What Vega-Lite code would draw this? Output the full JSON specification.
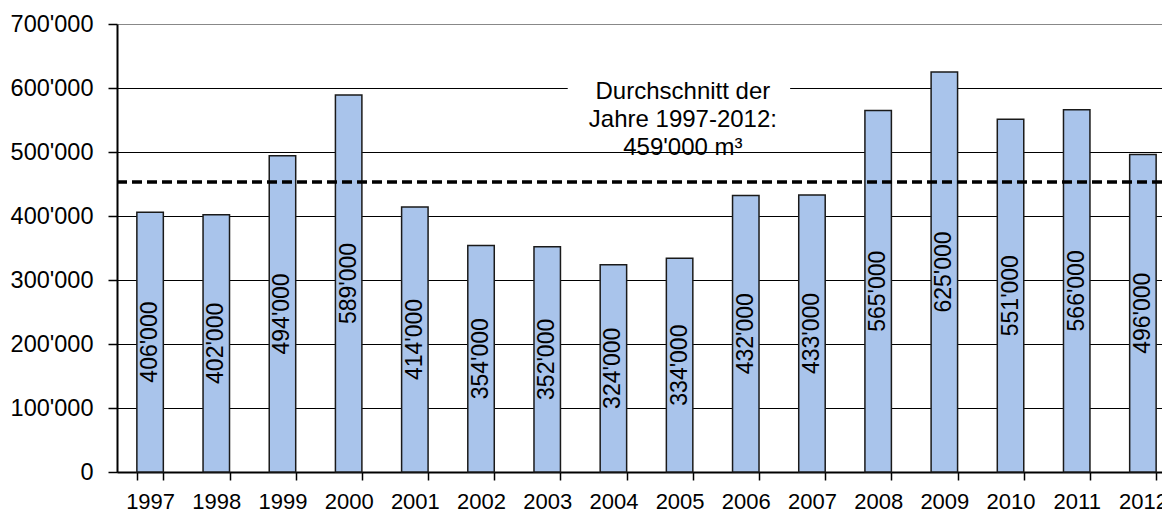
{
  "$schema": "https://vega.github.io/schema/vega-lite/v6.json",
  "width": 1045,
  "height": 448,
  "autosize": "none",
  "padding": {"left": 117, "top": 24, "right": 0, "bottom": 42},
  "background": "white",
  "config": {
    "locale": {"number": {"decimal": ".", "thousands": "'", "grouping": [3], "currency": ["", ""]}},
    "view": {"stroke": null},
    "font": "Liberation Sans"
  },
  "resolve": {"scale": {"x": "independent"}, "axis": {"x": "independent"}},
  "layer": [
    {
      "data": {
        "values": [
          {"year": "1997", "value": 406000},
          {"year": "1998", "value": 402000},
          {"year": "1999", "value": 494000},
          {"year": "2000", "value": 589000},
          {"year": "2001", "value": 414000},
          {"year": "2002", "value": 354000},
          {"year": "2003", "value": 352000},
          {"year": "2004", "value": 324000},
          {"year": "2005", "value": 334000},
          {"year": "2006", "value": 432000},
          {"year": "2007", "value": 433000},
          {"year": "2008", "value": 565000},
          {"year": "2009", "value": 625000},
          {"year": "2010", "value": 551000},
          {"year": "2011", "value": 566000},
          {"year": "2012", "value": 496000}
        ]
      },
      "encoding": {
        "x": {
          "field": "year",
          "type": "ordinal",
          "scale": {"type": "band", "range": [0, 1059], "paddingInner": 0.6, "paddingOuter": 0.3},
          "axis": {
            "title": null,
            "domainColor": "black",
            "domainWidth": 2,
            "tickColor": "black",
            "tickWidth": 1.5,
            "tickSize": 8,
            "tickBand": "extent",
            "labelAngle": 0,
            "labelFontSize": 22,
            "labelColor": "black",
            "labelFont": "Liberation Sans",
            "labelPadding": 11,
            "grid": false
          }
        }
      },
      "layer": [
        {
          "mark": {"type": "bar", "fill": "#A9C4EB", "stroke": "#1a1a1a", "strokeWidth": 1.5},
          "encoding": {
            "y": {
              "field": "value",
              "type": "quantitative",
              "scale": {"domain": [0, 700000], "nice": false},
              "axis": {
                "title": null,
                "values": [0, 100000, 200000, 300000, 400000, 500000, 600000, 700000],
                "format": ",d",
                "domainColor": "black",
                "domainWidth": 2,
                "tickColor": "black",
                "tickWidth": 1.5,
                "tickSize": 9,
                "labelFontSize": 23.5,
                "labelFont": "Liberation Sans",
                "labelColor": "black",
                "labelPadding": 15,
                "grid": true,
                "gridColor": {"condition": {"test": "datum.value === 700000", "value": "#888888"}, "value": "black"},
                "gridWidth": 1.2
              }
            }
          }
        },
        {
          "transform": [{"calculate": "datum.value / 2", "as": "mid"}],
          "mark": {"type": "text", "angle": 270, "align": "center", "baseline": "middle", "fontSize": 23, "font": "Liberation Sans", "color": "black"},
          "encoding": {
            "y": {"field": "mid", "type": "quantitative"},
            "text": {"field": "value", "type": "quantitative", "format": ",d"}
          }
        }
      ]
    },
    {
      "data": {"values": [{}]},
      "mark": {"type": "rule", "color": "black", "strokeWidth": 3.5, "strokeDash": [10, 5]},
      "encoding": {"y": {"datum": 453000, "type": "quantitative"}}
    },
    {
      "data": {"values": [{}]},
      "mark": {"type": "rect", "fill": "white"},
      "encoding": {
        "x": {"datum": 6.81, "type": "quantitative", "scale": {"domain": [0, 16], "range": [0, 1059]}, "axis": null},
        "x2": {"datum": 10.17},
        "y": {"datum": 560000, "type": "quantitative"},
        "y2": {"datum": 640000}
      }
    },
    {
      "data": {"values": [{}]},
      "mark": {
        "type": "text",
        "text": ["Durchschnitt der", "Jahre 1997-2012:", "459'000 m³"],
        "align": "center",
        "baseline": "middle",
        "fontSize": 24,
        "lineHeight": 28,
        "font": "Liberation Sans",
        "color": "black"
      },
      "encoding": {
        "x": {"datum": 8.55, "type": "quantitative", "scale": {"domain": [0, 16], "range": [0, 1059]}, "axis": null},
        "y": {"datum": 593000, "type": "quantitative"}
      }
    }
  ]
}
